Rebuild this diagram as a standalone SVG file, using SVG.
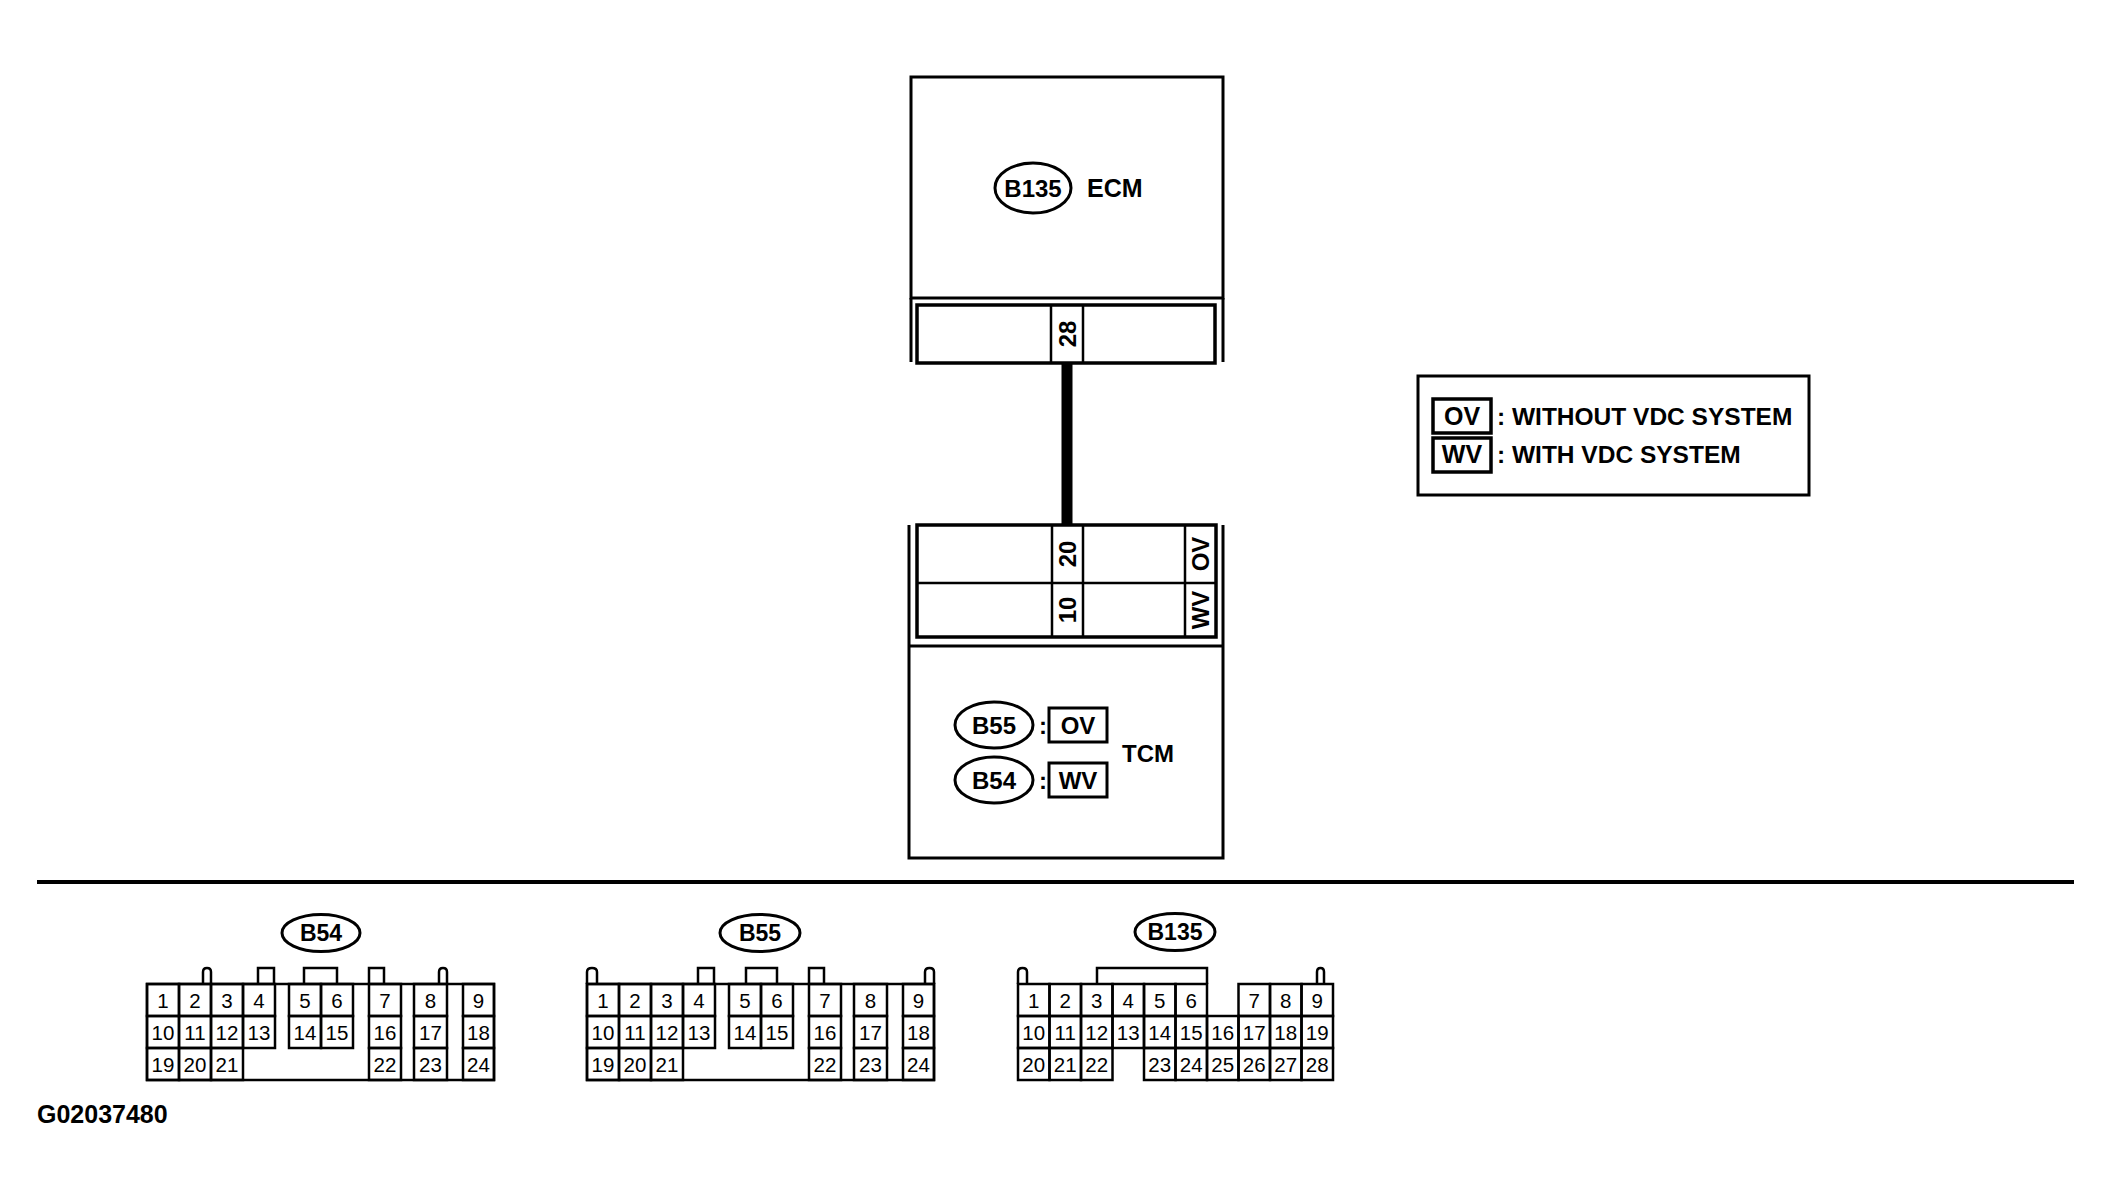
<svg xmlns="http://www.w3.org/2000/svg" width="2113" height="1200" viewBox="0 0 2113 1200">
<style>
.ln{fill:none;stroke:#000;stroke-width:3}
.thk{fill:none;stroke:#000;stroke-width:3.5}
.cell{fill:none;stroke:#000;stroke-width:2.5}
.b{font-family:"Liberation Sans",Arial,sans-serif;font-weight:bold;fill:#000}
.lbl{font-size:24px;text-anchor:middle}
.pin{font-size:24px;text-anchor:middle}
.num{font-family:"Liberation Sans",Arial,sans-serif;font-size:20.5px;text-anchor:middle;fill:#000}
</style>
<rect width="2113" height="1200" fill="#fff"/>

<g id="ecm">
<rect class="ln" x="911" y="77" width="312" height="221"/>
<path class="ln" d="M911,298 V362 M1223,298 V362"/>
<rect class="thk" x="917" y="305" width="298" height="58"/>
<path class="cell" d="M1051,305 V363 M1083,305 V363"/>
<text class="b pin" transform="translate(1067,334) rotate(-90)" y="8.5">28</text>
<ellipse class="ln" cx="1033" cy="188" rx="38" ry="25"/>
<text class="b lbl" x="1033" y="197">B135</text>
<text class="b" x="1087" y="197" font-size="25">ECM</text>
</g>

<g id="connectors">
<line x1="1067" y1="363" x2="1067" y2="525" stroke="#000" stroke-width="11"/>
</g>

<g id="tcm">
<path class="ln" d="M909,525 V858 H1223 V525 M909,646 H1223"/>
<rect class="thk" x="917" y="525" width="299" height="112"/>
<path class="cell" d="M917,583 H1216 M1052,525 V637 M1083,525 V637 M1185,525 V637"/>
<text class="b pin" transform="translate(1067,554) rotate(-90)" y="8.5">20</text>
<text class="b pin" transform="translate(1067,610) rotate(-90)" y="8.5">10</text>
<text class="b pin" transform="translate(1200.5,554) rotate(-90)" y="8.5">OV</text>
<text class="b pin" transform="translate(1200.5,610) rotate(-90)" y="8.5">WV</text>
<ellipse class="ln" cx="994" cy="725" rx="39" ry="23"/>
<text class="b lbl" x="994" y="734">B55</text>
<text class="b" x="1043" y="734" font-size="24" text-anchor="middle">:</text>
<rect class="ln" x="1049" y="708" width="58" height="34"/>
<text class="b lbl" x="1078" y="734">OV</text>
<ellipse class="ln" cx="994" cy="780" rx="39" ry="23"/>
<text class="b lbl" x="994" y="789">B54</text>
<text class="b" x="1043" y="789" font-size="24" text-anchor="middle">:</text>
<rect class="ln" x="1049" y="763" width="58" height="34"/>
<text class="b lbl" x="1078" y="789">WV</text>
<text class="b" x="1122" y="762" font-size="24">TCM</text>
</g>

<g id="legend">
<rect class="ln" x="1418" y="376" width="391" height="119"/>
<rect class="thk" x="1433" y="399" width="58" height="34"/>
<text class="b" x="1462" y="425" font-size="25" text-anchor="middle">OV</text>
<text class="b" x="1497" y="425" font-size="24.5">: WITHOUT VDC SYSTEM</text>
<rect class="thk" x="1433" y="438" width="58" height="34"/>
<text class="b" x="1462" y="463" font-size="25" text-anchor="middle">WV</text>
<text class="b" x="1497" y="463" font-size="24.5">: WITH VDC SYSTEM</text>
</g>

<line id="separator" x1="37" y1="882" x2="2074" y2="882" stroke="#000" stroke-width="4"/>

<g id="connector-b54">
<ellipse class="ln" cx="321" cy="933" rx="39" ry="18.5"/>
<text class="b" x="321" y="941" font-size="23" text-anchor="middle">B54</text>
<path class="cell" d="M203,984 V972 Q203,968 207,968 Q211,968 211,972 V984 M258,984 V968 H274 V984 M304,984 V968 H337 V984 M369,984 V968 H384 V984 M439,984 V972 Q439,968 443,968 Q447,968 447,972 V984"/>
<rect class="cell" x="147" y="984" width="347" height="96"/>
<g class="cell">
<rect x="147" y="984" width="32" height="32"/><rect x="179" y="984" width="32" height="32"/><rect x="211" y="984" width="32" height="32"/><rect x="243" y="984" width="32" height="32"/>
<rect x="289" y="984" width="32" height="32"/><rect x="321" y="984" width="32" height="32"/><rect x="369" y="984" width="32" height="32"/><rect x="414" y="984" width="33" height="32"/><rect x="463" y="984" width="31" height="32"/>
<rect x="147" y="1016" width="32" height="32"/><rect x="179" y="1016" width="32" height="32"/><rect x="211" y="1016" width="32" height="32"/><rect x="243" y="1016" width="32" height="32"/>
<rect x="289" y="1016" width="32" height="32"/><rect x="321" y="1016" width="32" height="32"/><rect x="369" y="1016" width="32" height="32"/><rect x="414" y="1016" width="33" height="32"/><rect x="463" y="1016" width="31" height="32"/>
<rect x="147" y="1048" width="32" height="32"/><rect x="179" y="1048" width="32" height="32"/><rect x="211" y="1048" width="32" height="32"/>
<rect x="369" y="1048" width="32" height="32"/><rect x="414" y="1048" width="33" height="32"/><rect x="463" y="1048" width="31" height="32"/>
</g>
<g class="num">
<text x="163" y="1007.5">1</text><text x="195" y="1007.5">2</text><text x="227" y="1007.5">3</text><text x="259" y="1007.5">4</text><text x="305" y="1007.5">5</text><text x="337" y="1007.5">6</text><text x="385" y="1007.5">7</text><text x="430.5" y="1007.5">8</text><text x="478.5" y="1007.5">9</text>
<text x="163" y="1039.5">10</text><text x="195" y="1039.5">11</text><text x="227" y="1039.5">12</text><text x="259" y="1039.5">13</text><text x="305" y="1039.5">14</text><text x="337" y="1039.5">15</text><text x="385" y="1039.5">16</text><text x="430.5" y="1039.5">17</text><text x="478.5" y="1039.5">18</text>
<text x="163" y="1071.5">19</text><text x="195" y="1071.5">20</text><text x="227" y="1071.5">21</text><text x="385" y="1071.5">22</text><text x="430.5" y="1071.5">23</text><text x="478.5" y="1071.5">24</text>
</g>
</g>

<g id="connector-b55">
<ellipse class="ln" cx="760" cy="933" rx="40" ry="18.5"/>
<text class="b" x="760" y="941" font-size="23" text-anchor="middle">B55</text>
<path class="cell" d="M587,984 V972 Q587,968 592,968 Q597,968 597,972 V984 M698,984 V968 H714 V984 M746,984 V968 H777 V984 M809,984 V968 H824 V984 M925,984 V972 Q925,968 929.5,968 Q934,968 934,972 V984"/>
<rect class="cell" x="587" y="984" width="347" height="96"/>
<g class="cell">
<rect x="587" y="984" width="32" height="32"/><rect x="619" y="984" width="32" height="32"/><rect x="651" y="984" width="32" height="32"/><rect x="683" y="984" width="32" height="32"/>
<rect x="729" y="984" width="32" height="32"/><rect x="761" y="984" width="32" height="32"/><rect x="809" y="984" width="32" height="32"/><rect x="854" y="984" width="33" height="32"/><rect x="903" y="984" width="31" height="32"/>
<rect x="587" y="1016" width="32" height="32"/><rect x="619" y="1016" width="32" height="32"/><rect x="651" y="1016" width="32" height="32"/><rect x="683" y="1016" width="32" height="32"/>
<rect x="729" y="1016" width="32" height="32"/><rect x="761" y="1016" width="32" height="32"/><rect x="809" y="1016" width="32" height="32"/><rect x="854" y="1016" width="33" height="32"/><rect x="903" y="1016" width="31" height="32"/>
<rect x="587" y="1048" width="32" height="32"/><rect x="619" y="1048" width="32" height="32"/><rect x="651" y="1048" width="32" height="32"/>
<rect x="809" y="1048" width="32" height="32"/><rect x="854" y="1048" width="33" height="32"/><rect x="903" y="1048" width="31" height="32"/>
</g>
<g class="num">
<text x="603" y="1007.5">1</text><text x="635" y="1007.5">2</text><text x="667" y="1007.5">3</text><text x="699" y="1007.5">4</text><text x="745" y="1007.5">5</text><text x="777" y="1007.5">6</text><text x="825" y="1007.5">7</text><text x="870.5" y="1007.5">8</text><text x="918.5" y="1007.5">9</text>
<text x="603" y="1039.5">10</text><text x="635" y="1039.5">11</text><text x="667" y="1039.5">12</text><text x="699" y="1039.5">13</text><text x="745" y="1039.5">14</text><text x="777" y="1039.5">15</text><text x="825" y="1039.5">16</text><text x="870.5" y="1039.5">17</text><text x="918.5" y="1039.5">18</text>
<text x="603" y="1071.5">19</text><text x="635" y="1071.5">20</text><text x="667" y="1071.5">21</text><text x="825" y="1071.5">22</text><text x="870.5" y="1071.5">23</text><text x="918.5" y="1071.5">24</text>
</g>
</g>

<g id="connector-b135">
<ellipse class="ln" cx="1175" cy="932" rx="40" ry="18.5"/>
<text class="b" x="1175" y="940" font-size="23" text-anchor="middle">B135</text>
<path class="cell" d="M1018,984 V972 Q1018,968 1022.5,968 Q1027,968 1027,972 V984 M1097,984 V968 H1207 V984 M1317,984 V972 Q1317,968 1320.5,968 Q1324,968 1324,972 V984"/>
<g class="cell">
<rect x="1018" y="984" width="31.5" height="32"/><rect x="1049.5" y="984" width="31.5" height="32"/><rect x="1081" y="984" width="31.5" height="32"/><rect x="1112.5" y="984" width="31.5" height="32"/><rect x="1144" y="984" width="31.5" height="32"/><rect x="1175.5" y="984" width="31.5" height="32"/>
<rect x="1238.5" y="984" width="31.5" height="32"/><rect x="1270" y="984" width="31.5" height="32"/><rect x="1301.5" y="984" width="31.5" height="32"/>
<rect x="1018" y="1016" width="31.5" height="32"/><rect x="1049.5" y="1016" width="31.5" height="32"/><rect x="1081" y="1016" width="31.5" height="32"/><rect x="1112.5" y="1016" width="31.5" height="32"/><rect x="1144" y="1016" width="31.5" height="32"/><rect x="1175.5" y="1016" width="31.5" height="32"/><rect x="1207" y="1016" width="31.5" height="32"/><rect x="1238.5" y="1016" width="31.5" height="32"/><rect x="1270" y="1016" width="31.5" height="32"/><rect x="1301.5" y="1016" width="31.5" height="32"/>
<rect x="1018" y="1048" width="31.5" height="32"/><rect x="1049.5" y="1048" width="31.5" height="32"/><rect x="1081" y="1048" width="31.5" height="32"/>
<rect x="1144" y="1048" width="31.5" height="32"/><rect x="1175.5" y="1048" width="31.5" height="32"/><rect x="1207" y="1048" width="31.5" height="32"/><rect x="1238.5" y="1048" width="31.5" height="32"/><rect x="1270" y="1048" width="31.5" height="32"/><rect x="1301.5" y="1048" width="31.5" height="32"/>
</g>
<g class="num">
<text x="1033.75" y="1007.5">1</text><text x="1065.25" y="1007.5">2</text><text x="1096.75" y="1007.5">3</text><text x="1128.25" y="1007.5">4</text><text x="1159.75" y="1007.5">5</text><text x="1191.25" y="1007.5">6</text><text x="1254.25" y="1007.5">7</text><text x="1285.75" y="1007.5">8</text><text x="1317.25" y="1007.5">9</text>
<text x="1033.75" y="1039.5">10</text><text x="1065.25" y="1039.5">11</text><text x="1096.75" y="1039.5">12</text><text x="1128.25" y="1039.5">13</text><text x="1159.75" y="1039.5">14</text><text x="1191.25" y="1039.5">15</text><text x="1222.75" y="1039.5">16</text><text x="1254.25" y="1039.5">17</text><text x="1285.75" y="1039.5">18</text><text x="1317.25" y="1039.5">19</text>
<text x="1033.75" y="1071.5">20</text><text x="1065.25" y="1071.5">21</text><text x="1096.75" y="1071.5">22</text><text x="1159.75" y="1071.5">23</text><text x="1191.25" y="1071.5">24</text><text x="1222.75" y="1071.5">25</text><text x="1254.25" y="1071.5">26</text><text x="1285.75" y="1071.5">27</text><text x="1317.25" y="1071.5">28</text>
</g>
</g>

<text id="code" class="b" x="37" y="1123" font-size="25">G02037480</text>
</svg>
